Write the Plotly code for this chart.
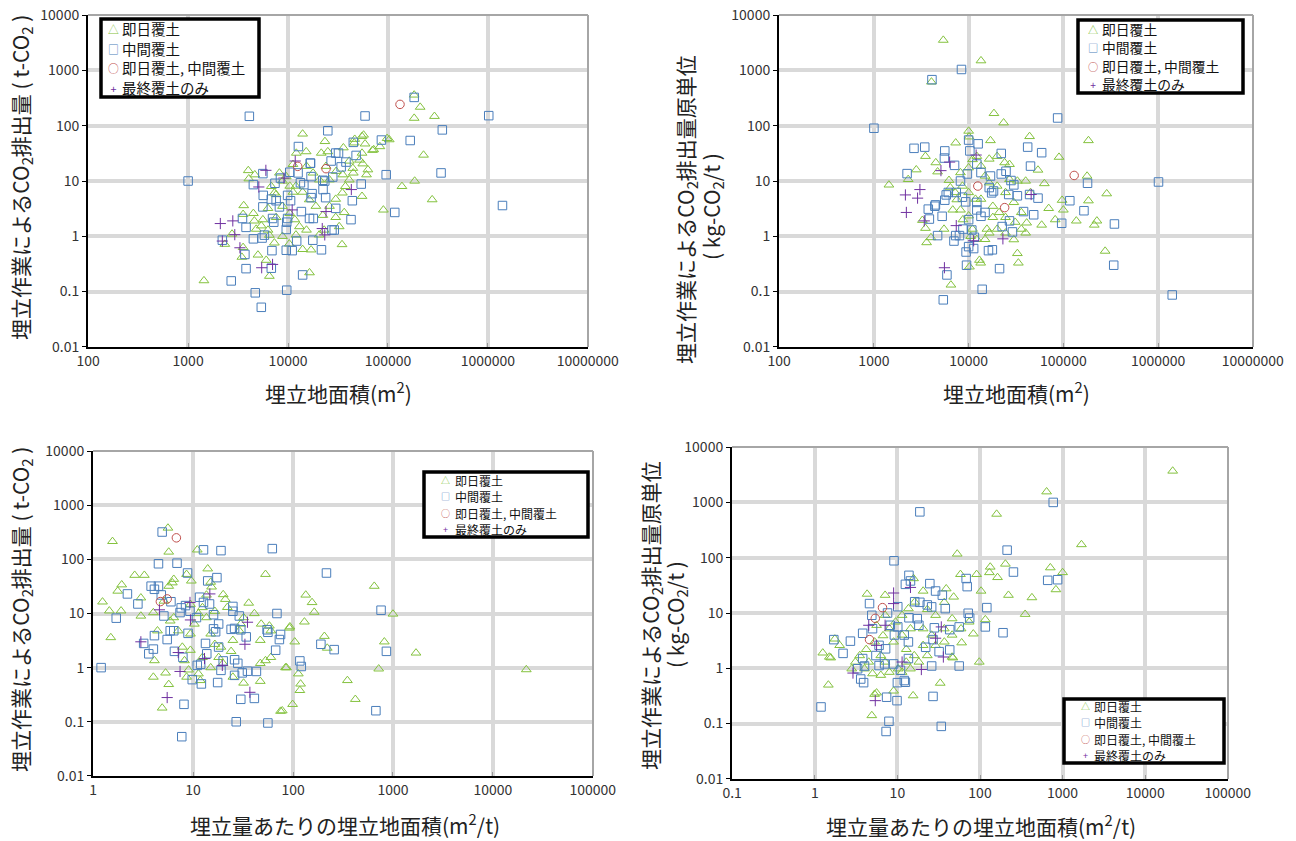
import plotly.graph_objects as go

W, H = 1296, 841
FONT = "Noto Sans CJK JP, Noto Sans, sans-serif"

# ---------------- data ----------------
SERIES_NAMES = ["即日覆土", "中間覆土", "即日覆土, 中間覆土", "最終覆土のみ"]
LEGEND_GLYPHS = ["△", "□", "○", "+"]

Y_TICKVALS = [0.01, 0.1, 1, 10, 100, 1000, 10000]
Y_TICKTEXT = ["0.01", "0.1", "1", "10", "100", "1000", "10000"]
X_AREA_TICKVALS = [100, 1000, 10000, 100000, 1000000, 10000000]
X_AREA_TICKTEXT = ["100", "1000", "10000", "100000", "1000000", "10000000"]
X_P3_TICKVALS = [1, 10, 100, 1000, 10000, 100000]
X_P3_TICKTEXT = ["1", "10", "100", "1000", "10000", "100000"]
X_P4_TICKVALS = [0.1, 1, 10, 100, 1000, 10000, 100000]
X_P4_TICKTEXT = ["0.1", "1", "10", "100", "1000", "10000", "100000"]

# Panel 1: area (m2) vs CO2 (t-CO2)
P1_TRI = [(183000,360),(210000,217),(183000,137),(292000,148),(227000,29.5),(103000,56),(98000,59),(83000,42),(70000,36),(55000,64),(59000,47),(46500,57),(46000,49),(14000,71),(23400,52),(15200,34),(12100,32),(21500,32),(25000,34),(35800,40),(61000,13),(63000,16),(56000,20.5),(45000,14),(138000,8.0),(185000,10),(277000,4.6),(90000,3.0),(55000,5.3),(34700,0.71),(16400,0.22),(1440,0.158),(6500,0.19),(6050,0.37),(5000,0.46),(3450,0.42),(3550,0.63),(2330,0.72),(2750,1.1),(3600,3.6),(3550,2.5),(4000,15.5),(4650,13),(4050,11),(4500,2.6),(4600,1.9),(4800,1.35),(5400,1.55),(6500,1.05),(7300,0.76),(8800,1.0),(10300,0.73),(12000,1.06),(14000,0.58),(17000,0.57),(20500,1.06),(23000,1.3),(7300,6.1),(6800,8),(8800,10),(9600,12),(10400,8.1),(11200,6.3),(12000,8.1),(14000,6.3),(16300,4.6),(19000,3.5),(22300,2.4),(26000,3.5),(30000,4.7),(35000,6.1),(37500,8.0),(41000,10.5),(44500,17),(35300,13),(30300,15),(26000,10.5),(24000,18.5),(20600,10.5),(17800,14),(15300,18.5),(11200,20),(8200,14),(7600,5.7),(8800,3.5),(10400,2.6),(11700,2.0),(13000,1.5),(15300,1.3),(7600,2.2),(6300,3.2),(5600,2.0),(6300,1.3),(30000,2.2),(32500,1.5),(36500,2.7),(41000,23),(52000,24),(55000,32),(57000,68),(72000,37)]
P1_SQ = [(4100,148),(1000,10),(183000,325),(59000,150),(1020000,152),(350000,84),(25000,81),(167000,54),(86000,55),(45000,50),(12700,42),(30000,32),(32000,32),(48000,29),(38000,22),(27000,23),(34000,18),(16800,21),(96000,13),(340000,14),(1400000,3.6),(117000,2.7),(54000,8.8),(44000,4.4),(42700,2.0),(30000,3.2),(29000,1.3),(27500,1.3),(21600,0.57),(17700,0.85),(14000,0.2),(9700,0.106),(5400,0.052),(4700,0.095),(2700,0.156),(3800,0.26),(6800,0.265),(3700,0.47),(2200,0.85),(4500,0.9),(3800,1.45),(3500,2.1),(6900,0.55),(11000,0.55),(9600,0.56),(5500,0.93),(5800,1.05),(7200,1.8),(7000,2.1),(9700,1.8),(9900,2.1),(9600,1.33),(12200,0.82),(16400,2.1),(17900,2.1),(5600,3.4),(5650,5.5),(6800,4.7),(7600,4.4),(8200,3.4),(10600,4.4),(13600,2.8),(17000,5.0),(17400,5.9),(22400,7.0),(23800,5.0),(4500,8.6),(5600,13.6),(7400,9.1),(8400,11.3),(10400,14.4),(12600,14),(13300,9.3),(14400,8.6),(17000,12),(22300,10.3),(23300,10),(28000,11.8),(16700,21),(9900,5.5)]
P1_CIR = [(132000,243),(12500,18.4),(24000,16.7)]
P1_PLUS = [(2100,1.7),(2800,1.9),(2930,1.07),(2200,0.82),(3300,0.62),(5450,0.27),(7000,0.31),(5100,7.8),(6000,15.6),(11800,23),(11000,3.0),(22000,1.38),(23300,1.06),(24000,2.8),(43000,7.0),(9100,11.3)]

# Panel 2: area (m2) vs CO2 per waste (kg-CO2/t)
P2_TRI = [(5400,3530),(13500,1500),(4050,620),(18500,167),(23400,113),(44000,64),(184000,54),(90000,27),(10000,80),(10100,63),(7300,49),(17000,54),(178000,12.3),(184000,4.4),(287000,5.9),(276000,0.54),(226000,1.9),(212000,1.6),(137000,1.9),(100000,3.0),(97000,4.5),(82000,2.0),(70000,3.2),(63000,9.0),(59000,1.6),(54000,15.8),(32700,0.49),(33500,0.33),(13000,0.37),(13400,0.33),(10200,0.28),(6500,0.132),(1440,8.5),(2300,10.7),(2800,16),(3500,28),(4500,21.5),(4700,14.7),(6200,10.3),(3250,1.95),(3500,1.4),(3600,0.77),(4000,0.95),(5500,1.35),(6800,3.0),(7500,4.6),(8200,3.0),(10000,2.35),(11000,1.35),(12200,0.88),(14900,0.88),(16500,1.15),(20000,1.35),(24500,1.15),(30000,0.87),(36000,1.35),(40000,1.15),(41000,1.75),(36000,2.7),(30000,4.1),(24500,6.2),(20000,8.1),(16500,9.3),(14900,12.3),(13500,18.7),(11000,24.5),(10000,17.4),(8200,14.2),(6400,7.6),(8600,8.1),(10000,6.2),(11800,4.7),(13500,4.7),(18000,3.5),(21000,2.7),(24500,2.2),(27000,10.7),(32700,10.0),(40000,10),(45000,6.2),(27000,20),(24000,21.5),(20000,28),(16500,25),(12200,28),(7200,6.2),(8700,2.0),(10500,1.0),(15600,1.35),(18000,2.2),(31000,1.8)]
P2_SQ = [(1000,90),(8400,1040),(4100,680),(87000,138),(1010000,9.6),(1410000,0.087),(340000,0.30),(346000,1.67),(180000,9.1),(165000,2.9),(117000,4.4),(96000,1.72),(59000,32.5),(42000,41),(45000,18.6),(54000,4.9),(48600,2.45),(38000,2.8),(44000,5.7),(32700,5.4),(30000,8.5),(28000,10.2),(24800,15),(22100,31.5),(22100,13.4),(26500,5.7),(27000,1.9),(29000,1.2),(22600,1.5),(21200,0.26),(17800,0.57),(16200,0.55),(13900,0.11),(5400,0.071),(5900,0.2),(9500,0.3),(9400,0.52),(11300,0.6),(10000,0.65),(7000,0.82),(7300,1.03),(8000,1.03),(10800,1.3),(11500,0.96),(8700,1.35),(4700,1.03),(3850,2.05),(3750,3.1),(4460,3.7),(5250,2.3),(5600,4.5),(5800,5.6),(7400,6.2),(8200,10),(8600,5.1),(9300,4.2),(9700,13.4),(10000,55),(10300,35),(12600,47),(12200,20.3),(13500,14.2),(10000,2.0),(13500,2.3),(14900,2.7),(17500,6.1),(18300,6.6),(16500,7.6),(17000,12.3),(7100,19.2),(5600,35),(5550,26),(2650,39),(3440,41),(2240,13.6),(4400,3.5),(6100,6.2),(12200,4.1),(12200,3.0)]
P2_CIR = [(12500,8.1),(24000,3.3),(130000,12.6)]
P2_PLUS = [(2150,5.6),(3060,7.0),(2890,4.9),(2200,2.7),(3400,1.9),(5550,0.27),(6300,22),(5100,15.4),(12000,29.5),(45700,5.7),(23000,0.9),(11300,0.83),(7400,1.56)]

# Panel 3: area per waste (m2/t) vs CO2 (t-CO2)
P3_TRI = [(21600,0.92),(1700,1.87),(1000,9.8),(820,3.0),(720,0.95),(650,32),(420,0.26),(350,0.58),(206,3.8),(220,2.3),(163,10.6),(155,16),(134,22),(130,7.0),(119,0.5),(113,0.77),(117,0.38),(99,0.21),(75,0.157),(84,1.0),(86,1.0),(92,5.4),(104,3.0),(53,53),(58,5.9),(60,4.8),(53,1.35),(60,1.55),(47,0.56),(47,1.2),(47,3.2),(48,6.4),(41,10),(36,15.6),(32,8.4),(30,6.4),(29,4.8),(25,3.2),(24,2.0),(25,0.67),(32,0.52),(21,18.3),(22,13),(20,22.4),(16.5,11),(15.3,31),(15,38),(14,67),(11,150),(9.6,40),(8.6,53),(6.4,43),(6.2,37),(5.7,32),(5.7,137),(5.6,380),(3.25,51),(2.6,51),(1.56,215),(1.93,34),(1.76,26),(1.24,16.4),(1.45,11.2),(1.9,11.2),(1.5,3.6),(3.0,19.5),(3.0,9),(4.0,10.4),(4.4,4.8),(4.1,1.35),(4.0,0.67),(5.3,0.8),(5.7,0.49),(4.9,0.18),(6.4,8.4),(7.1,4.8),(7.8,2.4),(8.2,1.35),(8.6,0.67),(9.0,0.91),(9.4,4.2),(10.3,6.4),(11.3,10),(12.4,12.9),(13.6,8.4),(15,4.2),(16.5,2.7),(18,1.55),(19.9,1.2),(19,2.4),(12.4,1.55),(11.3,0.77),(11.8,0.58),(15,1.0),(5.9,7.3),(5.1,17),(9.4,14.8),(13.6,22),(9.4,2.1),(93,5.7),(78,0.16)]
P3_SQ = [(7.7,0.053),(1.2,1.0),(1.7,8.2),(2.8,15),(2.2,23),(3.2,2.8),(3.6,1.8),(4.0,2.2),(4.1,3.9),(3.8,32),(4.1,28),(4.5,32),(4.8,22),(4.5,83),(4.9,320),(6.9,85),(8.8,56),(12.7,150),(19,145),(62,158),(216,56),(760,11.5),(860,2.0),(675,0.16),(258,2.15),(190,2.7),(121,1.05),(117,1.33),(69,10),(75,4.1),(73,3.3),(67,2.1),(56,4.5),(55,5.0),(43,0.85),(41,0.27),(56,0.095),(27,0.1),(30,0.26),(26,0.72),(26,1.4),(28,1.2),(31,0.8),(35,0.86),(34,3.7),(30,5),(29,9),(25,13.5),(25,11),(24,5.1),(26,5.3),(17.3,46),(14,40),(11.6,20),(12.7,16),(14.6,15),(16,9.5),(18,6.4),(16.8,4.6),(13.3,2.8),(13.7,1.8),(11.9,1.15),(11,1.1),(9.8,0.6),(12.1,0.5),(17.6,0.53),(19,0.89),(20,1.33),(18,2.4),(16,5.2),(9.3,11),(8.4,14),(7.6,12.7),(7.4,10.4),(6.4,4.8),(5.9,4.8),(5.5,3.3),(5.1,9),(6.0,16.5),(7.9,1.55),(6.5,2.0),(10.8,8.4),(8.9,4.3),(8.1,0.21)]
P3_CIR = [(6.8,250),(4.7,16.6),(5.5,18.6)]
P3_PLUS = [(3.0,3.0),(4.6,11.7),(5.5,0.28),(7.4,0.85),(7.1,1.9),(9.3,16),(13,1.47),(14.7,23),(19.6,1.1),(33,2.7),(35,6.9),(37,0.35),(9.4,7.6)]

# Panel 4: area per waste (m2/t) vs CO2 per waste (kg-CO2/t)
P4_TRI = [(21500,3700),(640,1560),(159,615),(1690,173),(53,117),(710,66),(1000,54),(203,77),(133,68),(130,54),(163,44),(91,50),(58,50),(830,26.5),(425,19),(221,21),(103,25),(352,9.5),(116,7.6),(83,4.2),(60,2.9),(98,1.3),(47,1.55),(33,0.54),(15.5,0.32),(9,0.39),(5.3,0.34),(4.9,0.14),(1.46,0.5),(1.25,1.9),(1.56,1.55),(1.5,1.6),(2.0,2.6),(1.75,3.4),(4.3,22),(7.1,21),(20.5,25),(15.7,42),(39,27.5),(48,19.5),(37,15.6),(23,11.6),(29,9.1),(46,7.9),(37,5.2),(26,4.0),(20.5,2.6),(16,1.7),(12.8,1.3),(10.2,0.98),(8.0,0.85),(6.3,0.75),(5.0,0.8),(4.0,0.98),(3.1,1.3),(2.8,0.98),(3.5,1.7),(4.2,2.2),(5.3,3.0),(6.7,3.9),(8.0,5.2),(9.5,6.9),(11.4,9.1),(13.6,12),(16.2,15.8),(7.1,9.1),(5.6,6),(9.0,3.0),(12.8,2.2),(18.2,1.3),(23,1.7),(29,2.6),(37,3.0),(46,4.0),(59,5.2),(74,6.9),(46,1.6),(20.5,5.2),(11.4,4.0),(14.4,5.2),(6.3,1.7),(7.1,1.3),(14.4,0.98),(11.4,0.85),(4.5,1.3),(5.6,0.36)]
P4_SQ = [(770,1000),(18.7,675),(9.1,88),(213,137),(254,55),(660,39),(870,40),(190,4.4),(121,12.5),(116,5.6),(75,8.1),(72,9.9),(68,42),(70,30),(56,5.6),(56,1.1),(43,2.15),(43,5),(38,12),(35,21),(29,25),(24.7,34),(14.4,38),(13.8,48),(12.5,33),(16.2,16),(23,14),(26,12.9),(28,5.4),(27,3.3),(32,2.0),(26,1.1),(27,0.31),(34,0.089),(9.9,0.26),(7.4,0.3),(7.9,0.11),(7.3,0.072),(1.19,0.2),(3.9,0.55),(3.6,0.64),(3.3,0.98),(4.0,1.1),(3.8,1.5),(6.0,1.12),(7.0,1.2),(5.5,1.7),(7.2,2.25),(2.2,1.86),(1.7,3.3),(2.7,3.1),(3.8,4.3),(4.6,14.8),(4.9,9.1),(7.6,10),(8.2,6),(10.1,5.6),(12.1,4.0),(13.6,3.0),(13.6,1.5),(10.9,0.92),(12.1,0.6),(10,0.55),(12.5,0.56),(13.8,8.2),(17.4,7.9),(18.2,6),(22,2.4),(18.7,15.6),(10.1,13),(9.2,4),(6,2.6),(5.0,5.2),(9,1.2)]
P4_CIR = [(6.6,12.5),(5.4,8.0),(4.6,3.3)]
P4_PLUS = [(9,23),(14.4,29),(5.4,0.26),(2.9,0.82),(19.5,0.95),(36,1.6),(34,5.6),(4.5,6),(7.1,6),(9,14.8),(11.4,1.3),(5.6,2.6),(29,3.5)]

# ---------------- layout geometry (pixels) ----------------
# legend: box (x0, y0, x1, y1), symbol x, text x, block centre y,
#         line font size (sets row pitch ~1.3*fs) and drawn text size
PANELS = [
    dict(series=[P1_TRI, P1_SQ, P1_CIR, P1_PLUS], px=(88, 588), py=(15, 347),
         xr=(2, 7), xt=(X_AREA_TICKVALS, X_AREA_TICKTEXT),
         lg=dict(box=(101, 19, 259, 97), sx=113, tx=121, cy=58, fs=15, ts=14.5)),
    dict(series=[P2_TRI, P2_SQ, P2_CIR, P2_PLUS], px=(779, 1253), py=(15, 347),
         xr=(2, 7), xt=(X_AREA_TICKVALS, X_AREA_TICKTEXT),
         lg=dict(box=(1078, 20, 1243, 93), sx=1093, tx=1101, cy=57, fs=14.2, ts=13.8)),
    dict(series=[P3_TRI, P3_SQ, P3_CIR, P3_PLUS], px=(93, 593), py=(451, 776),
         xr=(0, 5), xt=(X_P3_TICKVALS, X_P3_TICKTEXT),
         lg=dict(box=(424, 472, 588, 537), sx=446, tx=454, cy=505, fs=12.5, ts=12)),
    dict(series=[P4_TRI, P4_SQ, P4_CIR, P4_PLUS], px=(732, 1228), py=(447, 779),
         xr=(-1, 5), xt=(X_P4_TICKVALS, X_P4_TICKTEXT),
         lg=dict(box=(1064, 699, 1224, 763), sx=1085, tx=1093, cy=731, fs=12.5, ts=12)),
]

STYLES = [
    dict(symbol="triangle-up-open", color="#84c23e", size=8.5),
    dict(symbol="square-open", color="#4a7ebb", size=8.5),
    dict(symbol="circle-open", color="#c0504d", size=8.5),
    dict(symbol="cross-thin-open", color="#7030a0", size=8),
]

fig = go.Figure()
layout = dict(width=W, height=H, margin=dict(l=0, r=0, t=0, b=0, pad=0, autoexpand=False),
              paper_bgcolor="white", plot_bgcolor="white",
              font=dict(family=FONT, size=14, color="#222"),
              showlegend=False)
shapes = []
annotations = []

def fx(px):
    return px / W

def fy(py):
    return 1 - py / H

for i, p in enumerate(PANELS, start=1):
    sx = "" if i == 1 else str(i)
    for name, pts, st in zip(SERIES_NAMES, p["series"], STYLES):
        fig.add_trace(go.Scatter(
            x=[a for a, b in pts], y=[b for a, b in pts], mode="markers",
            name=name, xaxis="x" + sx, yaxis="y" + sx,
            marker=dict(symbol=st["symbol"], size=st["size"], color=st["color"],
                        line=dict(color=st["color"], width=1)),
        ))
    x0, x1 = p["px"]
    y0, y1 = p["py"]
    layout["xaxis" + sx] = dict(
        type="log", domain=[fx(x0), fx(x1)], range=[p["xr"][0] - 0.002, p["xr"][1] + 0.002],
        anchor="y" + sx, tickvals=p["xt"][0], ticktext=p["xt"][1],
        showgrid=True, gridcolor="#d9d9d9", gridwidth=3.5,
        showline=True, linecolor="black", linewidth=2,
        ticks="inside", ticklen=4, tickcolor="#999", tickwidth=1,
        tickfont=dict(size=14, color="#333", family=FONT), zeroline=False,
    )
    layout["yaxis" + sx] = dict(
        type="log", domain=[fy(y1), fy(y0)], range=[-2.002, 4.002],
        anchor="x" + sx, tickvals=Y_TICKVALS, ticktext=Y_TICKTEXT,
        showgrid=True, gridcolor="#d9d9d9", gridwidth=3.5,
        showline=True, linecolor="black", linewidth=2,
        ticks="outside", ticklen=4, tickcolor="black", tickwidth=1,
        tickfont=dict(size=14, color="#333", family=FONT), zeroline=False,
    )
    # grey top / right frame
    shapes.append(dict(type="line", xref="x" + sx + " domain", yref="y" + sx + " domain",
                       x0=0, x1=1, y0=1, y1=1, line=dict(color="#a6a6a6", width=2)))
    shapes.append(dict(type="line", xref="x" + sx + " domain", yref="y" + sx + " domain",
                       x0=1, x1=1, y0=0, y1=1, line=dict(color="#a6a6a6", width=2)))
    # legend box + entries (one text block for glyphs, one for labels)
    lg = p["lg"]
    bx0, by0, bx1, by1 = lg["box"]
    shapes.append(dict(type="rect", xref="paper", yref="paper", layer="above",
                       x0=fx(bx0), x1=fx(bx1), y0=fy(by1), y1=fy(by0),
                       fillcolor="white", line=dict(color="black", width=3.5)))
    glyphs = "<br>".join(
        f"<span style='color:{st['color']};font-size:{lg['fs'] * 0.72:.1f}px'>{g}</span>"
        for g, st in zip(LEGEND_GLYPHS, STYLES))
    labels = "<br>".join(
        f"<span style='font-size:{lg['ts']}px'>{n}</span>" for n in SERIES_NAMES)
    annotations.append(dict(text=glyphs, x=fx(lg["sx"]), y=fy(lg["cy"]), xanchor="center",
                            yanchor="middle", align="center", borderpad=0,
                            font=dict(size=lg["fs"], color="#111", family=FONT)))
    annotations.append(dict(text=labels, x=fx(lg["tx"]), y=fy(lg["cy"]),
                            xanchor="left", yanchor="middle", align="left", borderpad=0,
                            font=dict(size=lg["fs"], color="#111", family=FONT)))

CO2 = "CO<sub>2</sub>"
TS = 21
titles = [
    dict(text="埋立地面積(m<sup>2</sup>)", x=fx(338), y=fy(392)),
    dict(text="埋立地面積(m<sup>2</sup>)", x=fx(1016), y=fy(392)),
    dict(text="埋立量あたりの埋立地面積(m<sup>2</sup>/t)", x=fx(345), y=fy(824)),
    dict(text="埋立量あたりの埋立地面積(m<sup>2</sup>/t)", x=fx(981), y=fy(825)),
    dict(text=f"埋立作業による{CO2}排出量 ( t-{CO2} )", x=fx(21), y=fy(178), textangle=-90),
    dict(text=f"埋立作業による{CO2}排出量原単位", x=fx(686), y=fy(210), textangle=-90),
    dict(text=f"( kg-{CO2}/t )", x=fx(712), y=fy(207), textangle=-90),
    dict(text=f"埋立作業による{CO2}排出量 ( t-{CO2} )", x=fx(21), y=fy(610), textangle=-90),
    dict(text=f"埋立作業による{CO2}排出量原単位", x=fx(651), y=fy(615), textangle=-90),
    dict(text=f"( kg-{CO2}/t )", x=fx(676), y=fy(615), textangle=-90),
]
for a in titles:
    a.update(xanchor="center", yanchor="middle", font=dict(size=TS, color="#222", family=FONT))
annotations = titles + annotations
for a in annotations:
    a.update(xref="paper", yref="paper", showarrow=False)

layout["annotations"] = annotations
layout["shapes"] = shapes
fig.update_layout(**layout)

fig.write_html("out.html", config={"displayModeBar": False},
               post_script="document.body.style.margin='0';")
